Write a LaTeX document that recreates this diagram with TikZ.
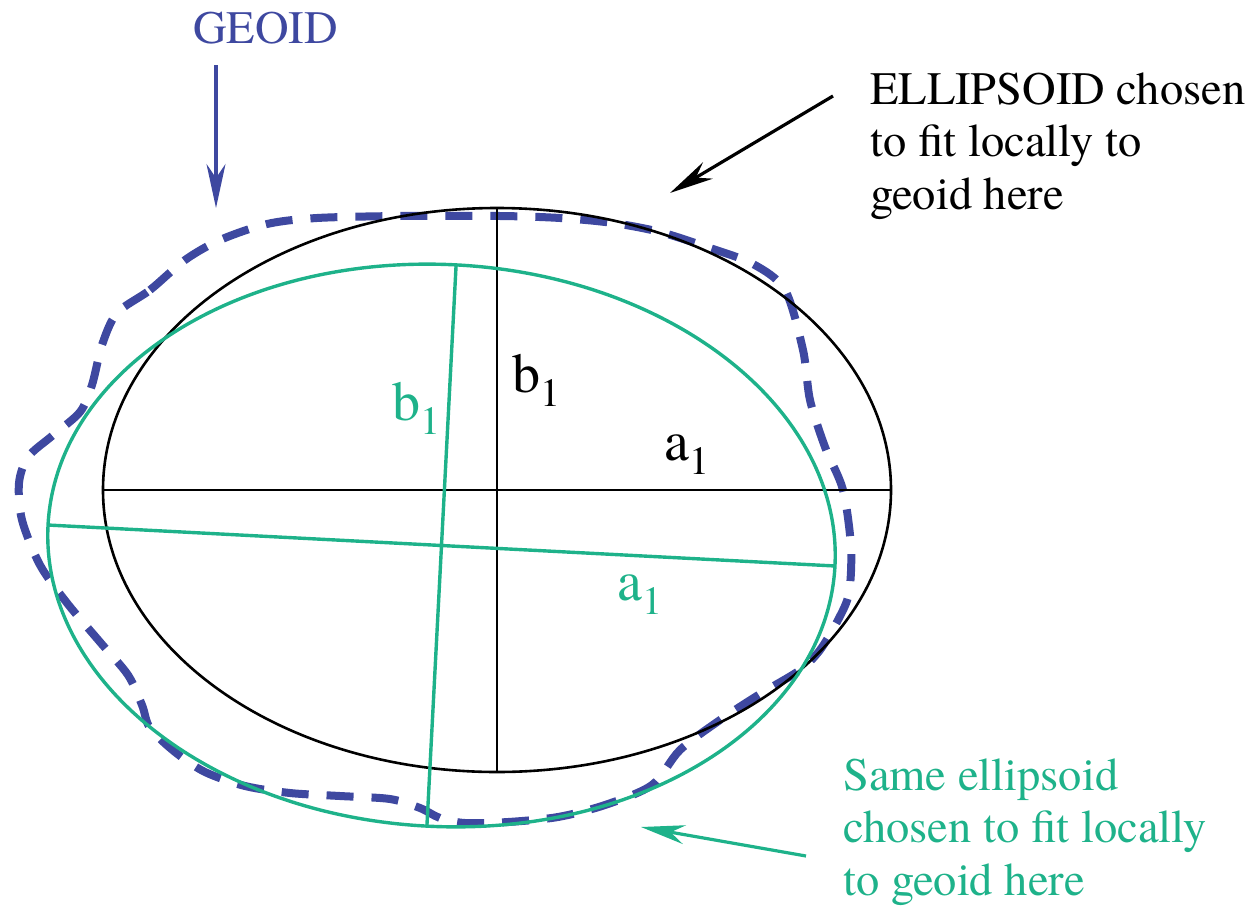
\documentclass[tikz,border=0pt]{standalone}
\usepackage{fontspec}
\setmainfont{texgyretermes-regular.otf}[BoldFont=texgyretermes-bold.otf, ItalicFont=texgyretermes-italic.otf]
\usetikzlibrary{arrows.meta}
\definecolor{geoblue}{RGB}{62,72,160}
\definecolor{ellgreen}{RGB}{30,178,138}
\tikzset{
  blackline/.style={black, line width=2.6pt},
  greenline/.style={ellgreen, line width=3.4pt},
  geoidline/.style={geoblue, line width=8pt, dash pattern=on 27pt off 18pt},
  pointer/.style={line width=3.2pt, -{Stealth[length=44pt,width=19pt,inset=14pt]}},
  bigtext/.style={font=\fontsize{46.5}{52.5}\selectfont, inner sep=0pt, anchor=base west},
  axlabel/.style={font=\fontsize{56}{60}\selectfont, inner sep=0pt, anchor=base west},
}
\newcommand{\subone}{\raisebox{-14pt}{\fontsize{40}{40}\selectfont 1}}
\begin{document}
\begin{tikzpicture}[x=1pt,y=-1pt]
\useasboundingbox (0,0) rectangle (1258,913);

% geoid (dashed)
\draw[geoidline] plot[smooth cycle, tension=0.5] coordinates {
 (117,313) (150,290) (185,260) (220,240) (267,224) (317,218) (400,216)
 (500,216) (560,218) (613,223) (660,232) (707,247) (753,264) (785,290)
 (803,350) (810,400) (825,447) (843,490) (851,547) (849,593) (838,620)
 (820,650) (800,670) (760,694) (720,720) (680,750) (652,785) (605,805)
 (558,817) (508,822) (465,823) (440,818) (420,808) (390,799) (340,796)
 (290,793) (245,786) (205,772) (175,752) (150,728) (142,705) (128,675)
 (100,642) (67,603) (40,565) (22,520) (19,483) (28,457) (52,436) (80,412)
 (92,385) (102,345)};

% reference ellipse (black)
\draw[blackline] (497,490) ellipse [x radius=394pt, y radius=282pt];
\coordinate (bL) at (103,490);
\coordinate (bR) at (891,490);
\coordinate (bT) at (497,208);
\coordinate (bB) at (497,772);
\draw[blackline] (bL) -- (bR);
\draw[blackline] (bT) -- (bB);

% same ellipsoid, tilted (green)
\begin{scope}[shift={(441.5,545.5)}, rotate=-2.98]
  \draw[greenline] (0,0) ellipse [x radius=394pt, y radius=281pt];
  \coordinate (gL) at (-394pt,0pt);
  \coordinate (gR) at (394pt,0pt);
  \coordinate (gT) at (0pt,281pt);
  \coordinate (gB) at (0pt,-281pt);
\end{scope}
\draw[greenline] (gL) -- (gR);
\draw[greenline] (gT) -- (gB);

% axis labels
\node[axlabel] (lb1) at (512,392) {b\subone};
\node[axlabel] (la1) at (664,460) {a\subone};
\node[axlabel, text=ellgreen] (gb1) at (392,420) {b\subone};
\node[axlabel, text=ellgreen] (ga1) at (617,600) {a\subone};

% GEOID label and arrow
\node[bigtext, text=geoblue] (geoidlbl) at (193,43) {GEOID};
\coordinate (geoS) at (216,65);
\coordinate (geoE) at (216,208);
\draw[pointer, geoblue] (geoS) -- (geoE);

% black ellipsoid label and arrow
\node[bigtext] (elltxt) at (870,104)
  {\begin{tabular}[t]{@{}l@{}}ELLIPSOID chosen\\to fit locally to\\geoid here\end{tabular}};
\coordinate (bkS) at (833,96);
\coordinate (bkE) at (670,193);
\draw[pointer, black] (bkS) -- (bkE);

% green label and arrow
\node[bigtext, text=ellgreen] (sametxt) at (843,790)
  {\begin{tabular}[t]{@{}l@{}}Same ellipsoid\\chosen to fit locally\\to geoid here\end{tabular}};
\coordinate (grS) at (806,856);
\coordinate (grE) at (641,827);
\draw[pointer, ellgreen] (grS) -- (grE);
\end{tikzpicture}
\end{document}
